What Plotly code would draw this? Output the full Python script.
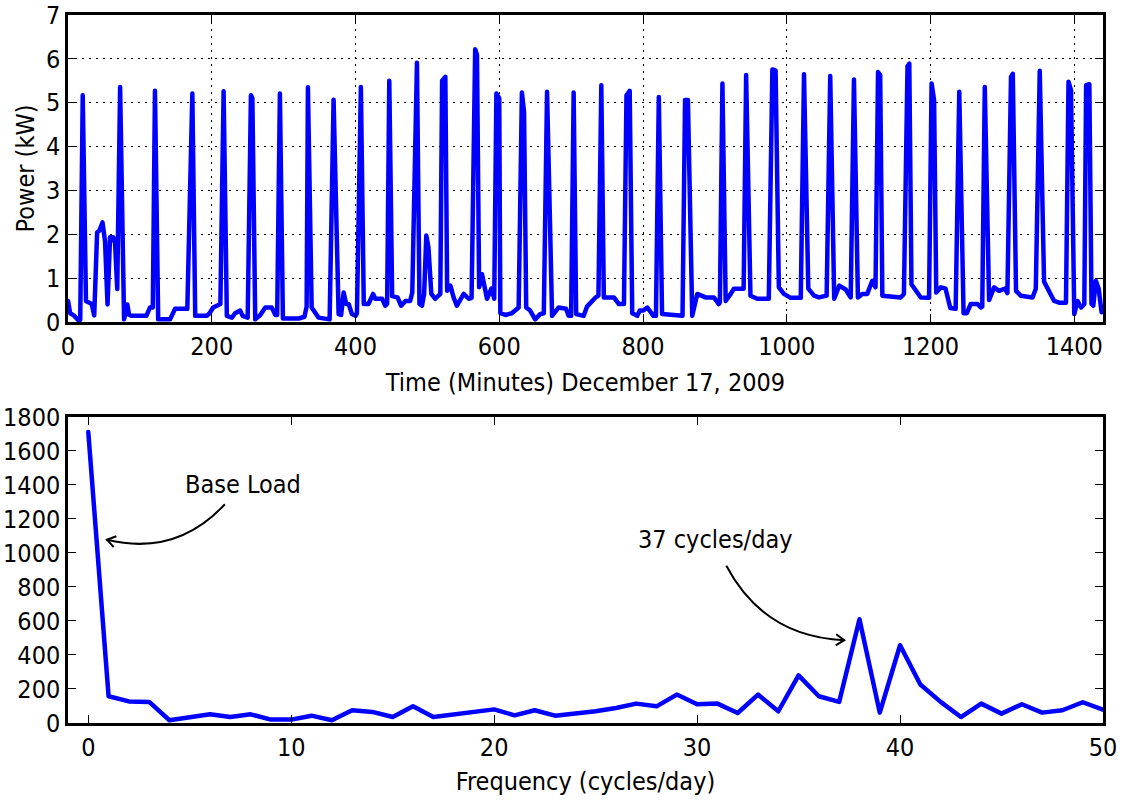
import math
import plotly.graph_objects as go

# Household power draw over one day (minute of day, kW), piecewise samples
minutes = [
    0, 3, 8, 14, 17, 20.5, 25, 33, 36.5, 40.5, 43.5, 48, 51.5, 55, 58.5, 63, 65.5, 68.5,
    72.5, 78, 82.5, 85, 89, 109, 114, 118, 121, 125.5, 142, 149, 166, 173, 177, 193,
    197, 202, 212, 216.5, 221, 228, 232.5, 239.5, 243, 250, 254.5, 256.5, 260.5, 267.5,
    274.5, 283.5, 288.5, 291, 294.8, 299, 321, 329, 332, 333.8, 339, 348.5, 364, 369.5,
    376.5, 380, 383.5, 387, 390.5, 395, 400, 402, 407.5, 411.5, 418, 424.5, 427.5, 437,
    441.5, 444, 447, 451, 458.5, 463.5, 469.5, 476, 479, 485.5, 489, 492.5, 495.5, 498.5,
    501.5, 505.5, 511, 518, 520.5, 525, 527.5, 532, 536.5, 541, 550.5, 557.5, 561.5,
    566.5, 569, 572, 576, 579, 583, 589, 593, 596, 600, 601.5, 608.5, 617.5, 627, 631.5,
    634.5, 637.5, 643, 650, 657, 662, 666.5, 673.5, 682.5, 693, 696.5, 700, 703.5, 707,
    717.5, 722, 727, 734, 738, 742, 745.5, 759.5, 766.5, 773.5, 777, 781.5, 785, 792,
    795.5, 800, 806, 814.5, 818, 822, 826.5, 852, 855, 858.5, 862.5, 868.5, 875.5, 887,
    898.5, 905.5, 907, 910.5, 915, 922, 926.5, 940, 943.5, 949.5, 959, 975, 980, 984.5,
    989, 996, 1005.5, 1019.5, 1024, 1030, 1038, 1045, 1055.5, 1060.5, 1066, 1073, 1082,
    1089, 1093.5, 1099, 1105, 1112, 1119, 1123.5, 1127, 1130, 1133, 1158.5, 1163, 1168,
    1170.5, 1173.5, 1179.5, 1186.5, 1198, 1201.5, 1205, 1208, 1214.5, 1221, 1227.5,
    1235, 1240, 1246, 1250.5, 1256, 1265.5, 1270, 1272, 1275.5, 1281.5, 1288.5, 1295.5,
    1303.5, 1307, 1312, 1314.5, 1319, 1325.5, 1342, 1346.5, 1352, 1358, 1365, 1372,
    1379, 1388.5, 1392, 1395.5, 1400, 1404.5, 1409.5, 1414, 1416.5, 1421, 1424, 1426.5,
    1430, 1434, 1438, 1440,
]
power_kw = [
    0.48, 0.20, 0.15, 0.05, 0.05, 5.17, 0.48, 0.41, 0.15, 2.04, 2.08, 2.27, 1.85, 0.40, 1.93, 1.93, 1.79, 0.75,
    5.36, 0.06, 0.40, 0.16, 0.14, 0.14, 0.33, 0.33, 5.27, 0.06, 0.06, 0.30, 0.30, 5.21, 0.14, 0.14,
    0.20, 0.33, 0.41, 5.26, 0.14, 0.10, 0.20, 0.26, 0.14, 0.10, 5.17, 5.10, 0.06, 0.16,
    0.33, 0.33, 0.16, 0.16, 5.21, 0.08, 0.08, 0.12, 0.35, 5.35, 0.33, 0.10, 0.06, 5.07,
    0.18, 0.16, 0.67, 0.41, 0.41, 0.18, 0.14, 0.20, 5.36, 0.41, 0.41, 0.64, 0.53, 0.53,
    0.37, 0.41, 5.50, 0.59, 0.56, 0.37, 0.48, 0.48, 0.67, 5.91, 0.41, 0.37, 0.64, 1.97,
    1.70, 0.64, 0.53, 0.64, 5.50, 5.59, 0.71, 0.83, 0.56, 0.37, 0.64, 0.53, 0.55,
    6.22, 6.09, 0.79, 1.09, 0.79, 0.53, 0.76, 0.53, 5.21, 5.10, 0.20, 0.16, 0.20, 0.33, 5.23,
    4.79, 0.33, 0.26, 0.06, 0.18, 0.20, 5.25, 0.14, 0.33, 0.30, 0.14, 0.14, 5.23, 0.18,
    0.14, 0.35, 0.45, 0.56, 0.60, 5.40, 0.56, 0.56, 0.41, 0.41, 5.17, 5.27, 0.20, 0.14,
    0.26, 0.26, 0.33, 0.14, 0.14, 5.13, 0.18, 0.14, 0.14, 5.06, 5.06, 0.14, 0.64, 0.56,
    0.56, 0.41, 0.45, 5.44, 0.48, 0.64, 0.76, 0.76, 5.63, 0.60, 0.53, 0.53, 5.76, 5.73,
    0.79, 0.64, 0.55, 0.55, 5.65, 0.76, 0.60, 0.56, 0.60, 5.61, 0.53, 0.83, 0.74,
    0.56, 5.53, 0.56, 0.64, 0.64, 0.94, 0.79, 5.70, 5.63, 0.60, 0.56, 0.64, 5.83,
    5.89, 0.86, 0.71, 0.56, 0.55, 5.44, 5.06, 0.67, 0.79, 0.76, 0.32,
    0.30, 5.25, 0.20, 0.20, 0.41, 0.41, 0.33, 0.35, 5.36, 0.50, 0.79, 0.71,
    0.76, 0.66, 5.59, 5.66, 0.71, 0.60, 0.56, 0.76, 5.73, 0.92, 0.71, 0.48,
    0.44, 0.44, 5.48, 5.28, 0.18, 0.48, 0.33, 0.41, 5.40, 5.42, 0.41, 0.37,
    0.94, 0.76, 0.22, 0.25,
]

# Spectrum magnitude of the daily load, one bin per cycle/day
freq_cpd = list(range(51))
magnitude = [
    1710, 157, 127, 124, 16, 35, 51, 35, 51, 20,
    20, 43, 16, 75, 65, 35, 98, 35, 51, 67,
    80, 45, 75, 43, 55, 69, 88, 114, 98, 167,
    110, 114, 59, 167, 69, 280, 157, 124, 610, 61,
    457, 226, 124, 35, 114, 55, 110, 61, 75, 122,
    78,
]

time_ticks = [0, 200, 400, 600, 800, 1000, 1200, 1400]
power_ticks = [0, 1, 2, 3, 4, 5, 6, 7]
freq_ticks = [0, 10, 20, 30, 40, 50]
mag_ticks = list(range(0, 1801, 200))

W, H = 1126, 801
M_L, M_R, M_T, M_B = 68, 23, 15, 78
TOP_DOMAIN = [0.5664, 1.0]
BOT_DOMAIN = [0.0, 0.4325]
F_RANGE = [-1, 50]
MAG_RANGE = [0, 1800]

FONT = dict(family="DejaVu Sans Condensed", size=25, color="black")
BLUE = "#0000ff"
LINE_W = 4.5

fig = go.Figure()
fig.add_trace(go.Scatter(x=minutes, y=power_kw, mode="lines",
                         line=dict(color=BLUE, width=LINE_W), xaxis="x", yaxis="y",
                         showlegend=False, hoverinfo="skip"))
fig.add_trace(go.Scatter(x=freq_cpd, y=magnitude, mode="lines",
                         line=dict(color=BLUE, width=LINE_W), xaxis="x2", yaxis="y2",
                         showlegend=False, hoverinfo="skip"))

axis_common = dict(showline=True, linecolor="black", linewidth=2.5, mirror="ticks",
                   ticks="inside", ticklen=8, tickwidth=1, tickcolor="black",
                   tickfont=FONT, zeroline=False, automargin=False)
grid_on = dict(showgrid=True, gridcolor="black", gridwidth=1, griddash="2px,5px")

fig.update_layout(
    width=W, height=H, margin=dict(l=M_L, r=M_R, t=M_T, b=M_B),
    paper_bgcolor="white", plot_bgcolor="white", font=FONT,
    xaxis=dict(domain=[0, 1], anchor="y", range=[0, 1440], tickvals=time_ticks,
               title=dict(text="Time (Minutes) December 17, 2009", font=FONT, standoff=14),
               **axis_common, **grid_on),
    yaxis=dict(domain=TOP_DOMAIN, anchor="x", range=[0, 7], tickvals=power_ticks,
               title=dict(text="Power (kW)", font=FONT, standoff=5),
               **axis_common, **grid_on),
    xaxis2=dict(domain=[0, 1], anchor="y2", range=F_RANGE, tickvals=freq_ticks,
                title=dict(text="Frequency (cycles/day)", font=FONT, standoff=12),
                showgrid=False, **axis_common),
    yaxis2=dict(domain=BOT_DOMAIN, anchor="x2", range=MAG_RANGE, tickvals=mag_ticks,
                showgrid=False, **axis_common),
)

# pixel scale of the spectrum axes, used to shape the curved arrows
plot_w = W - M_L - M_R
plot_h = H - M_T - M_B
sx = plot_w / (F_RANGE[1] - F_RANGE[0])
sy = plot_h * (BOT_DOMAIN[1] - BOT_DOMAIN[0]) / (MAG_RANGE[1] - MAG_RANGE[0])


def curved_arrow(start, ctrl, tip, head_len=10, head_ang=34):
    """Quadratic-curve arrow with an open head, in spectrum data coords."""
    fig.add_shape(type="path", xref="x2", yref="y2",
                  path=f"M {start[0]},{start[1]} Q {ctrl[0]},{ctrl[1]} {tip[0]},{tip[1]}",
                  line=dict(color="black", width=2))
    bx = (ctrl[0] - tip[0]) * sx
    by = (ctrl[1] - tip[1]) * sy
    n = math.hypot(bx, by)
    bx, by = bx / n, by / n
    pts = []
    for s in (1, -1):
        a = math.radians(head_ang) * s
        rx = bx * math.cos(a) - by * math.sin(a)
        ry = bx * math.sin(a) + by * math.cos(a)
        pts.append((tip[0] + head_len * rx / sx, tip[1] + head_len * ry / sy))
    fig.add_shape(type="path", xref="x2", yref="y2",
                  path=(f"M {pts[0][0]},{pts[0][1]} L {tip[0]},{tip[1]} "
                        f"L {pts[1][0]},{pts[1][1]}"),
                  line=dict(color="black", width=2))


fig.add_annotation(x=4.68, y=1403, xref="x2", yref="y2", text="Base Load",
                   showarrow=False, xanchor="left", yanchor="middle", font=FONT)
curved_arrow((6.73, 1286), (4.34, 978), (0.92, 1077))

fig.add_annotation(x=27.0, y=1080, xref="x2", yref="y2", text="37 cycles/day",
                   showarrow=False, xanchor="left", yanchor="middle", font=FONT)
curved_arrow((31.44, 924), (33.29, 507), (37.25, 487))

# rounded joins on the data lines so the narrow peaks end in round tips
round_joins = (
    "document.querySelectorAll('.scatterlayer path.js-line')"
    ".forEach(function(p){p.style.strokeLinejoin='round';p.style.strokeLinecap='round';});"
)
fig.write_html("out.html", post_script=round_joins)
